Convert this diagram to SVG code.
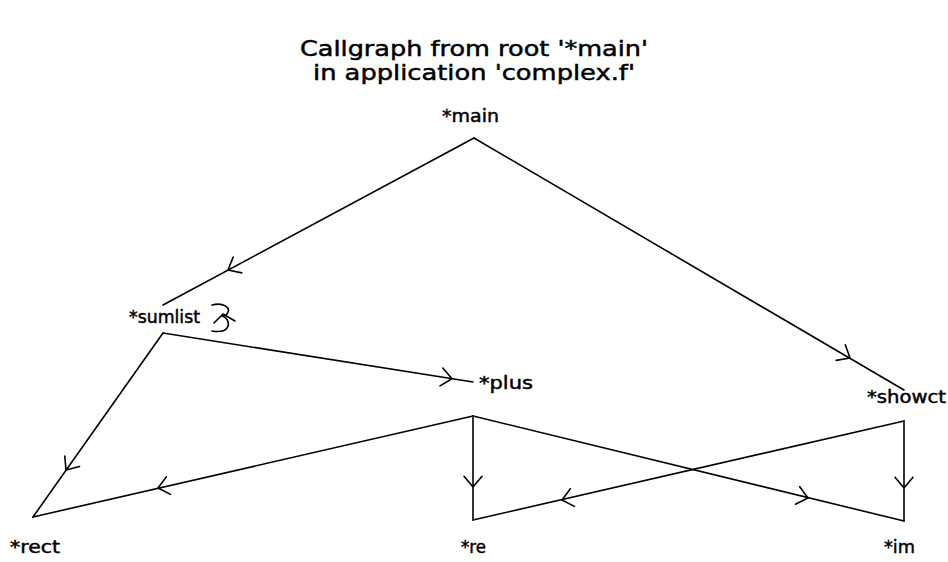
<svg xmlns="http://www.w3.org/2000/svg" width="948" height="562" viewBox="0 0 948 562">
<style>
.title{font-family:"DejaVu Sans","Liberation Sans",sans-serif;font-size:22px;fill:#000;stroke:#000;stroke-width:0.5;text-anchor:middle}
.lbl{font-family:"DejaVu Sans","Liberation Sans",sans-serif;font-size:17px;fill:#000;stroke:#000;stroke-width:0.45}
.e{stroke:#000;stroke-width:1.6;fill:none;stroke-linecap:round;stroke-linejoin:round}
</style>
<rect width="948" height="562" fill="#fff"/>
<g id="title">
<text class="title" x="474" y="56" textLength="348" lengthAdjust="spacingAndGlyphs">Callgraph from root '*main'</text>
<text class="title" x="474" y="80" textLength="322" lengthAdjust="spacingAndGlyphs">in application 'complex.f'</text>
</g>
<g id="connectors">
<g id="e-main-sumlist"><path class="e" d="M474,138 L163,305"/><path class="e" d="M233.2,257 L228,270 L241.7,272.9"/></g>
<g id="e-main-showct"><path class="e" d="M474,138 L904,390"/><path class="e" d="M836.2,360.4 L850,358 L845.3,344.8"/></g>
<g id="e-sumlist-plus"><path class="e" d="M163,333 L473,382"/><path class="e" d="M440,385.9 L452,378.7 L442.8,368.1"/></g>
<g id="e-sumlist-rect"><path class="e" d="M163,333 L33,517"/><path class="e" d="M64.8,456.1 L66,470 L79.5,466.4"/></g>
<g id="e-plus-rect"><path class="e" d="M473,416 L33,517"/><path class="e" d="M166.4,476.8 L158,488 L170.5,494.4"/></g>
<g id="e-plus-re"><path class="e" d="M473,416 L473,520"/><path class="e" d="M464,476.3 L473,487 L482,476.3"/></g>
<g id="e-plus-im"><path class="e" d="M473,416 L904,521"/><path class="e" d="M795.4,504.2 L808,498 L799.7,486.7"/></g>
<g id="e-showct-re"><path class="e" d="M904,421 L473,520"/><path class="e" d="M570.4,488.8 L562,500 L574.5,506.4"/></g>
<g id="e-showct-im"><path class="e" d="M904,421 L904,521"/><path class="e" d="M895,477.3 L904,488 L913,477.3"/></g>
<g id="e-sumlist-self"><path class="e" d="M212,305 C224,302 230,308 228,312 C227,315 224,316 222,316 C228,318 230,324 227,328 C224,332 218,332 212,331"/><path class="e" d="M214,323 L223,314 L235,321"/></g>
</g>
<g id="node-main"><text class="lbl" x="442" y="122" textLength="57" lengthAdjust="spacingAndGlyphs">*main</text></g>
<g id="node-sumlist"><text class="lbl" x="129" y="323" textLength="71" lengthAdjust="spacingAndGlyphs">*sumlist</text></g>
<g id="node-plus"><text class="lbl" x="479" y="389" textLength="54" lengthAdjust="spacingAndGlyphs">*plus</text></g>
<g id="node-showct"><text class="lbl" x="867" y="403" textLength="79" lengthAdjust="spacingAndGlyphs">*showct</text></g>
<g id="node-rect"><text class="lbl" x="10" y="553" textLength="50" lengthAdjust="spacingAndGlyphs">*rect</text></g>
<g id="node-re"><text class="lbl" x="461" y="553" textLength="25" lengthAdjust="spacingAndGlyphs">*re</text></g>
<g id="node-im"><text class="lbl" x="884" y="553" textLength="31" lengthAdjust="spacingAndGlyphs">*im</text></g>
</svg>
